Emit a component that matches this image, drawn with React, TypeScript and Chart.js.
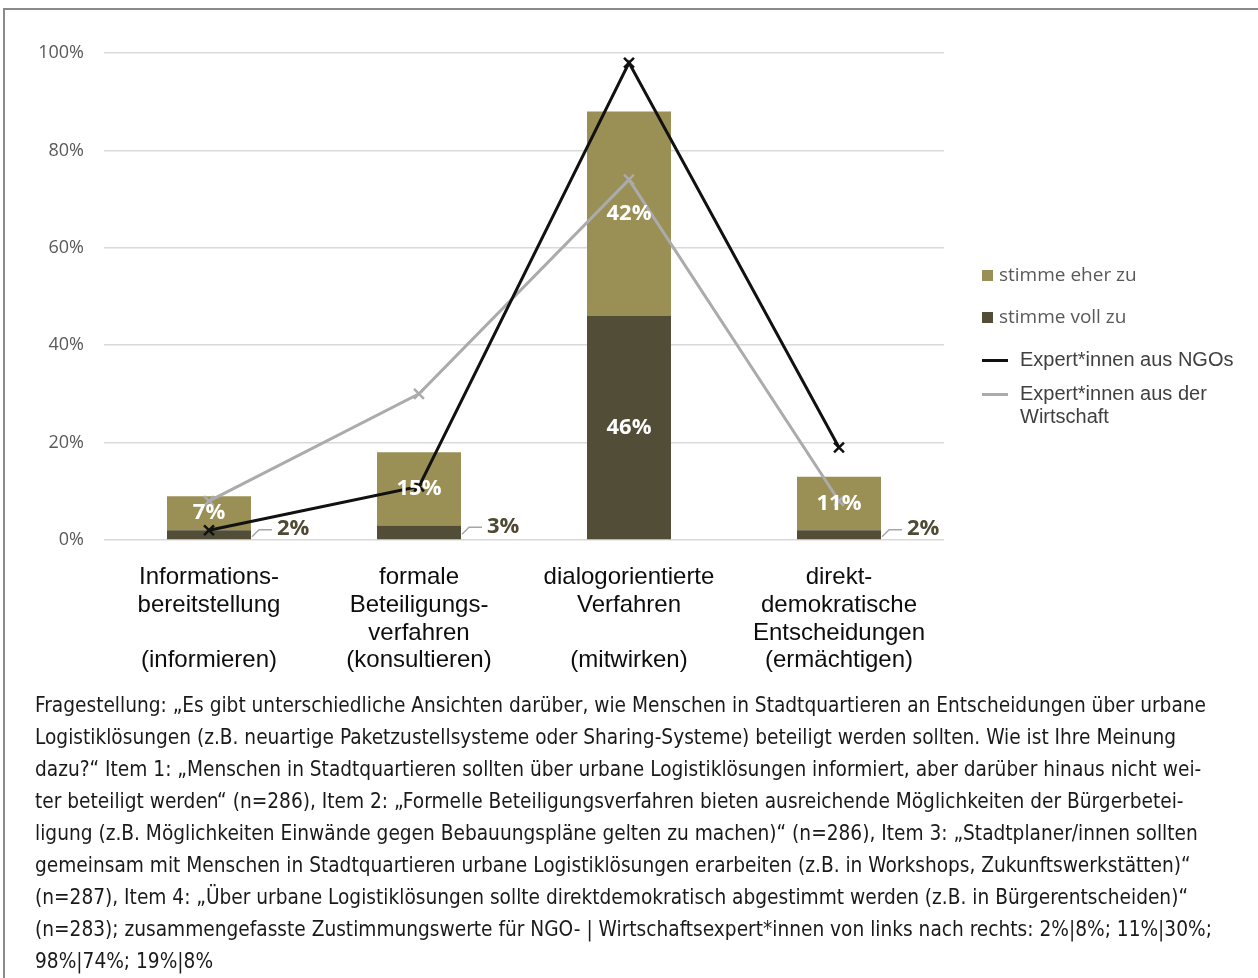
import React, { useEffect, useLayoutEffect, useRef } from "react";
import { Chart, registerables } from "chart.js";

Chart.register(...registerables);

const categories: string[][] = [
  ["Informations-", "bereitstellung", "", "(informieren)"],
  ["formale", "Beteiligungs-", "verfahren", "(konsultieren)"],
  ["dialogorientierte", "Verfahren", "", "(mitwirken)"],
  ["direkt-", "demokratische", "Entscheidungen", "(ermächtigen)"],
];
const stimmeVollZu = [2, 3, 46, 2];
const stimmeEherZu = [7, 15, 42, 11];
const expertNGO = [2, 11, 98, 19];
const expertWirtschaft = [8, 30, 74, 8];
const yTickStep = 20;
const yMax = 100;

const legendItems = [
  { label: "stimme eher zu", kind: "box", color: "#9a9055" },
  { label: "stimme voll zu", kind: "box", color: "#524d36" },
  { label: "Expert*innen aus NGOs", kind: "line", color: "#111111" },
  { label: "Expert*innen aus der\nWirtschaft", kind: "line", color: "#ababab" },
];

const captionLines = [
  "Fragestellung: „Es gibt unterschiedliche Ansichten darüber, wie Menschen in Stadtquartieren an Entscheidungen über urbane",
  "Logistiklösungen (z.B. neuartige Paketzustellsysteme oder Sharing-Systeme) beteiligt werden sollten. Wie ist Ihre Meinung",
  "dazu?“ Item 1: „Menschen in Stadtquartieren sollten über urbane Logistiklösungen informiert, aber darüber hinaus nicht wei-",
  "ter beteiligt werden“ (n=286), Item 2: „Formelle Beteiligungsverfahren bieten ausreichende Möglichkeiten der Bürgerbetei-",
  "ligung (z.B. Möglichkeiten Einwände gegen Bebauungspläne gelten zu machen)“ (n=286), Item 3: „Stadtplaner/innen sollten",
  "gemeinsam mit Menschen in Stadtquartieren urbane Logistiklösungen erarbeiten (z.B. in Workshops, Zukunftswerkstätten)“",
  "(n=287), Item 4: „Über urbane Logistiklösungen sollte direktdemokratisch abgestimmt werden (z.B. in Bürgerentscheiden)“",
  "(n=283); zusammengefasste Zustimmungswerte für NGO- | Wirtschaftsexpert*innen von links nach rechts: 2%|8%; 11%|30%;",
  "98%|74%; 19%|8%",
];
const captionFirstLineWidth = 1171;

const labelPlugin = {
  id: "barLabels",
  afterDatasetsDraw(chart: any) {
    const ctx = chart.ctx;
    const vollMeta = chart.getDatasetMeta(2);
    const eherMeta = chart.getDatasetMeta(3);
    ctx.save();
    ctx.font = "bold 22px 'Open Sans', sans-serif";
    ctx.textBaseline = "middle";
    eherMeta.data.forEach((el: any, i: number) => {
      const yMid = (el.y + el.base) / 2;
      ctx.fillStyle = "#ffffff";
      ctx.textAlign = "center";
      ctx.fillText(stimmeEherZu[i] + "%", el.x, yMid);
    });
    vollMeta.data.forEach((el: any, i: number) => {
      const v = stimmeVollZu[i];
      const yMid = (el.y + el.base) / 2;
      if (v >= 5) {
        ctx.fillStyle = "#ffffff";
        ctx.textAlign = "center";
        ctx.fillText(v + "%", el.x, yMid);
      } else {
        const right = el.x + el.width / 2;
        ctx.strokeStyle = "#a6a6a6";
        ctx.lineWidth = 1.5;
        ctx.beginPath();
        ctx.moveTo(right + 1, yMid + 2);
        ctx.lineTo(right + 8, yMid - 5);
        ctx.lineTo(right + 21, yMid - 5);
        ctx.stroke();
        ctx.fillStyle = "#4f4a33";
        ctx.textAlign = "left";
        ctx.fillText(v + "%", right + 26, yMid - 6);
      }
    });
    ctx.restore();
  },
};

export default function App() {
  const canvasRef = useRef<HTMLCanvasElement | null>(null);
  const captionRef = useRef<HTMLDivElement | null>(null);

  useLayoutEffect(() => {
    const box = captionRef.current;
    if (!box) return;
    const first = box.firstElementChild as HTMLElement | null;
    if (!first) return;
    const w = first.getBoundingClientRect().width;
    if (w > 0) {
      box.style.transform = `scaleX(${captionFirstLineWidth / w})`;
    }
  }, []);

  useEffect(() => {
    if (!canvasRef.current) return;
    const chart = new Chart(canvasRef.current, {
      type: "bar",
      data: {
        labels: categories as any,
        datasets: [
          {
            type: "line",
            label: "Expert*innen aus NGOs",
            data: expertNGO,
            borderColor: "#111111",
            backgroundColor: "#111111",
            borderWidth: 3,
            pointStyle: "crossRot",
            pointRadius: 7,
            pointBorderWidth: 2.5,
            pointBorderColor: "#111111",
            tension: 0,
            stack: "ngo",
            order: 0,
          } as any,
          {
            type: "line",
            label: "Expert*innen aus der Wirtschaft",
            data: expertWirtschaft,
            borderColor: "#ababab",
            backgroundColor: "#ababab",
            borderWidth: 3,
            pointStyle: "crossRot",
            pointRadius: 7,
            pointBorderWidth: 2.5,
            pointBorderColor: "#ababab",
            tension: 0,
            stack: "wirt",
            order: 1,
          } as any,
          {
            type: "bar",
            label: "stimme voll zu",
            data: stimmeVollZu,
            backgroundColor: "#524d36",
            stack: "s",
            barPercentage: 0.5,
            categoryPercentage: 0.8,
            order: 2,
          } as any,
          {
            type: "bar",
            label: "stimme eher zu",
            data: stimmeEherZu,
            backgroundColor: "#9a9055",
            stack: "s",
            barPercentage: 0.5,
            categoryPercentage: 0.8,
            order: 3,
          } as any,
        ],
      },
      options: {
        responsive: false,
        animation: false,
        layout: { padding: { top: 53, right: 314, bottom: 0, left: 0 } },
        plugins: {
          legend: { display: false },
          tooltip: { enabled: false },
          title: { display: false },
        },
        scales: {
          x: {
            stacked: true,
            grid: { display: false },
            border: { display: false },
            ticks: {
              autoSkip: false,
              maxRotation: 0,
              minRotation: 0,
              padding: 16,
              color: "#0d0d0d",
              font: { family: "'Liberation Sans', Arial, sans-serif", size: 24, lineHeight: 1.15 },
            },
            afterFit: (s: any) => {
              s.height = 150;
            },
          },
          y: {
            stacked: true,
            min: 0,
            max: yMax,
            ticks: {
              stepSize: yTickStep,
              padding: 20,
              color: "#595959",
              font: { family: "'Open Sans', sans-serif", size: 18 },
              callback: (v: any) => v + "%",
            },
            grid: { color: "#d9d9d9", lineWidth: 1.5, drawTicks: false },
            border: { display: false },
            afterFit: (s: any) => {
              s.width = 104;
            },
          },
        },
      } as any,
      plugins: [labelPlugin],
    });
    return () => chart.destroy();
  }, []);

  return (
    <div style={{ position: "absolute", left: 0, top: 0, width: 1258, height: 978, overflow: "hidden", background: "#fff" }}>
      <div style={{ position: "absolute", left: 3, top: 8, width: 1300, height: 1000, border: "2px solid #8a8a8a" }} />
      <canvas ref={canvasRef} width={1258} height={690} style={{ position: "absolute", left: 0, top: 0, width: 1258, height: 690 }} />
      {legendItems.map((it, i) => {
        const tops = [263, 305, 348, 382];
        const isBox = it.kind === "box";
        return (
          <div key={i} style={{ position: "absolute", left: 982, top: tops[i], display: "flex", alignItems: "flex-start" }}>
            {isBox ? (
              <div style={{ width: 11, height: 11, background: it.color, marginTop: 7, marginRight: 6 }} />
            ) : (
              <div style={{ width: 26, height: 3, background: it.color, marginTop: 11, marginRight: 12 }} />
            )}
            <div
              style={{
                whiteSpace: "pre",
                fontFamily: isBox ? "'Open Sans', sans-serif" : "'Liberation Sans', Arial, sans-serif",
                fontSize: isBox ? 19 : 20,
                lineHeight: "23px",
                color: isBox ? "#595959" : "#404040",
              }}
            >
              {it.label}
            </div>
          </div>
        );
      })}
      <div
        ref={captionRef}
        style={{
          position: "absolute",
          left: 35,
          top: 689,
          fontFamily: "'DejaVu Sans', sans-serif",
          fontStretch: "condensed",
          fontSize: 21,
          lineHeight: "32px",
          color: "#1a1a1a",
          whiteSpace: "pre",
          transformOrigin: "0 0",
        }}
      >
        {captionLines.map((l, i) => (
          <div key={i} style={{ display: "table" }}>{l}</div>
        ))}
      </div>
    </div>
  );
}
